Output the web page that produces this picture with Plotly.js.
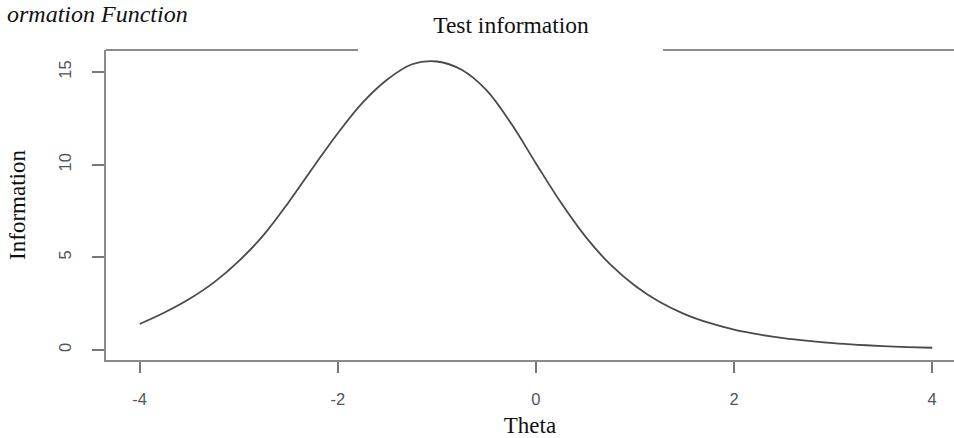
<!DOCTYPE html>
<html>
<head>
<meta charset="utf-8">
<script src="https://cdn.plot.ly/plotly-3.0.1.min.js"></script>
<style>html,body{margin:0;padding:0;background:#fff;}#chart{width:954px;height:438px;}</style>
</head>
<body>
<div id="chart"></div>
<script>
// Data
var theta = [-4.0, -3.75, -3.5, -3.25, -3.0, -2.75, -2.5, -2.25, -2.0, -1.75, -1.5, -1.25, -1.0, -0.75, -0.5, -0.25,
             0.0, 0.25, 0.5, 0.75, 1.0, 1.25, 1.5, 1.75, 2.0, 2.25, 2.5, 2.75, 3.0, 3.25, 3.5, 3.75, 4.0];
var information = [1.4, 2.02, 2.75, 3.65, 4.8, 6.2, 7.95, 9.85, 11.7, 13.35, 14.6, 15.42, 15.57, 15.12, 14.02, 12.22,
                   10.07, 7.97, 6.12, 4.62, 3.47, 2.59, 1.94, 1.46, 1.1, 0.84, 0.64, 0.49, 0.37, 0.28, 0.21, 0.16, 0.12];
var xTicks = [-4, -2, 0, 2, 4];
var yTicks = [0, 5, 10, 15];
var chartTitle = "Test information";
var captionText = "ormation Function";
var xTitle = "Theta";
var yTitle = "Information";

var trace = {
  x: theta, y: information, type: 'scatter', mode: 'lines',
  line: {color: '#4a4a4a', width: 1.8, shape: 'spline', smoothing: 1},
  hoverinfo: 'skip', showlegend: false
};

var serif = "Liberation Serif, Times New Roman, serif";
var sans = "Liberation Sans, Arial, sans-serif";

var layout = {
  width: 954, height: 438,
  margin: {l: 106, r: 0, t: 50, b: 78, pad: 0},
  paper_bgcolor: '#ffffff', plot_bgcolor: '#ffffff',
  showlegend: false,
  title: {
    text: chartTitle,
    font: {family: serif, size: 23.5, color: '#111'},
    x: 511 / 954, xref: 'container', xanchor: 'center',
    y: 1 - 25 / 438, yref: 'container', yanchor: 'middle'
  },
  xaxis: {
    range: [-4.34, 4.22], tickvals: xTicks, ticktext: xTicks.map(String),
    showgrid: false, zeroline: false,
    showline: true, linecolor: '#8a8a8a', linewidth: 2,
    ticks: 'outside', ticklen: 11, tickwidth: 2, tickcolor: '#777',
    ticklabelstandoff: 12,
    tickfont: {family: sans, size: 16.5, color: '#4f5461'},
    title: {text: xTitle, font: {family: serif, size: 23, color: '#111'}, standoff: 14}
  },
  yaxis: {
    range: [-0.54, 16.19], tickvals: yTicks, ticktext: yTicks.map(String),
    tickangle: -90,
    showgrid: false, zeroline: false,
    showline: true, linecolor: '#8a8a8a', linewidth: 2,
    ticks: 'outside', ticklen: 12, tickwidth: 2, tickcolor: '#777',
    ticklabelstandoff: 14,
    tickfont: {family: sans, size: 16.5, color: '#4f5461'},
    title: {text: yTitle, font: {family: serif, size: 23, color: '#111'}, standoff: 24}
  },
  shapes: [
    {type: 'line', xref: 'paper', yref: 'paper', x0: 0, x1: (358 - 106) / 848, y0: 1, y1: 1,
     line: {color: '#8a8a8a', width: 2}},
    {type: 'line', xref: 'paper', yref: 'paper', x0: (663 - 106) / 848, x1: 1, y0: 1, y1: 1,
     line: {color: '#8a8a8a', width: 2}}
  ],
  annotations: [
    {text: '<i>' + captionText + '</i>', xref: 'paper', yref: 'paper', x: (190 - 106) / 848, xanchor: 'right',
     y: 1 + 36 / 310, yanchor: 'middle', showarrow: false,
     font: {family: serif, size: 24, color: '#111'}}
  ]
};

Plotly.newPlot('chart', [trace], layout, {staticPlot: true, displayModeBar: false});
</script>
</body>
</html>
